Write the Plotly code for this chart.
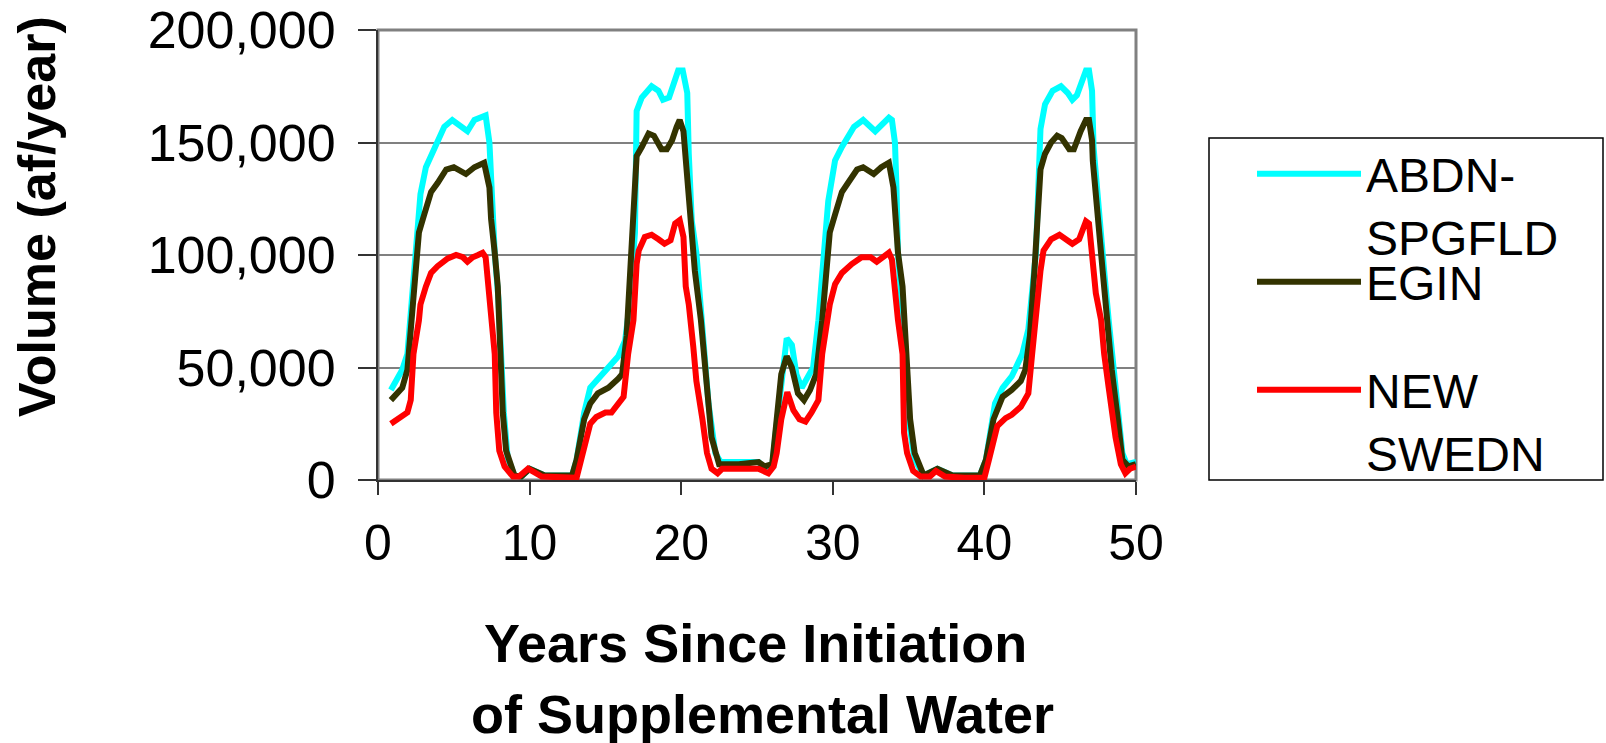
import plotly.graph_objects as go

# ---- data (years since initiation, volume af/year) ----
abdn_years = [0.85, 1.6, 1.94, 2.27, 2.6, 2.8, 3.16, 3.7, 4.37, 4.9, 5.9, 6.36, 7.1, 7.35, 7.5, 7.7, 7.95, 8.3, 8.55,
              9.0, 9.45, 10.0, 11.0, 12.8, 13.1, 13.6, 14.0, 15.0, 15.85, 16.3, 16.6, 16.95, 17.06, 17.4, 18.05, 18.5,
              18.8, 19.2, 19.6, 19.8, 20.1, 20.4, 20.5, 20.7, 21.0, 21.4, 21.8, 22.25, 22.6, 23.8, 25.1, 25.5, 26.0,
              26.2, 26.6, 26.96, 27.3, 27.6, 27.95, 28.4, 28.7, 29.05, 29.5, 29.7, 30.15, 30.6, 31.4, 32.0, 32.8, 33.2,
              33.7, 33.9, 34.1, 34.2, 34.3, 34.8, 35.0, 35.4, 36.0, 36.9, 37.9, 39.7, 40.1, 40.7, 41.2, 41.8, 42.5,
              42.9, 43.4, 43.7, 44.0, 44.5, 45.05, 45.5, 45.8, 46.1, 46.45, 46.7, 46.9, 47.1, 47.2, 47.55, 47.9, 48.2,
              48.65, 49.1, 49.4, 50.0]
abdn_volume = [40000, 49000, 56000, 86000, 115000, 127000, 139000, 147000, 157000, 160000, 155000, 160000, 162000,
               150000, 125000, 101000, 80000, 30000, 10000, 2000, 1500, 5000, 2000, 2000, 9000, 30000, 41000, 49000,
               55000, 62000, 78000, 110000, 164000, 170000, 175000, 173000, 169000, 170000, 178000, 182000, 182000,
               172000, 145000, 115000, 101000, 71000, 34000, 12000, 8000, 8000, 8000, 5000, 6000, 19000, 44000, 63000,
               60000, 47000, 41000, 46000, 50000, 71000, 107000, 124000, 142000, 148000, 157000, 160000, 155000,
               158000, 161000, 160000, 150000, 130000, 101000, 56000, 27000, 9000, 2000, 5000, 2000, 2000, 9000,
               34000, 41000, 46000, 56000, 67000, 101000, 156000, 167000, 173000, 175000, 172000, 169000, 171000,
               178000, 182000, 182000, 173000, 148000, 118000, 93000, 71000, 41000, 12000, 7000, 8000]

egin_years = [0.85, 1.6, 1.94, 2.27, 2.7, 3.05, 3.5, 3.93, 4.5, 5.0, 5.8, 6.36, 7.0, 7.35, 7.46, 7.7, 7.9, 8.23, 8.45,
              9.0, 9.45, 10.0, 11.0, 12.8, 13.1, 13.6, 14.0, 14.5, 15.2, 15.85, 16.1, 16.4, 16.7, 17.06, 17.4, 17.85,
              18.2, 18.7, 19.05, 19.4, 19.7, 19.9, 20.15, 20.3, 20.5, 20.6, 20.9, 21.3, 21.6, 22.0, 22.5, 23.8, 25.1,
              25.5, 26.0, 26.3, 26.6, 26.96, 27.3, 27.7, 28.1, 28.5, 28.9, 29.3, 29.6, 29.8, 30.15, 30.6, 31.0, 31.6,
              32.0, 32.7, 33.2, 33.7, 34.0, 34.1, 34.3, 34.6, 34.9, 35.1, 35.4, 36.0, 36.9, 37.9, 39.7, 40.1, 40.6,
              41.0, 41.2, 41.8, 42.4, 42.7, 43.0, 43.3, 43.7, 44.0, 44.4, 44.8, 45.1, 45.6, 45.9, 46.35, 46.7, 46.9,
              47.1, 47.15, 47.45, 47.8, 48.1, 48.4, 48.8, 49.1, 49.5, 50.0]
egin_volume = [35500, 41000, 49000, 78000, 110000, 118000, 128000, 132000, 138000, 139000, 136000, 139000, 141000,
               130000, 116000, 101000, 86000, 30000, 13000, 2000, 1500, 5000, 2000, 2000, 9000, 27000, 34000, 38500,
               41000, 45000, 47000, 64000, 101000, 144000, 148000, 154000, 153000, 147000, 147000, 151000, 157000,
               160000, 155000, 142000, 130000, 116000, 93000, 71000, 49000, 19000, 7000, 7000, 8000, 6000, 7000,
               27000, 47000, 55000, 50000, 38500, 35500, 40000, 47000, 71000, 93000, 110000, 118000, 128000, 132000,
               138000, 139000, 136000, 139000, 141000, 130000, 116000, 101000, 86000, 56000, 27000, 12000, 2000,
               5000, 2000, 2000, 9000, 27000, 33000, 37000, 40000, 44000, 49000, 64000, 93000, 138000, 145000, 150000,
               153000, 152000, 147000, 147000, 155000, 160000, 160000, 151000, 142000, 116000, 93000, 71000, 49000,
               27000, 9000, 6000, 7000]

swedn_years = [0.85, 1.28, 1.94, 2.16, 2.34, 2.7, 2.8, 3.16, 3.5, 3.93, 4.6, 5.15, 5.6, 5.9, 6.25, 6.6, 6.9, 7.1,
               7.35, 7.46, 7.7, 7.8, 8.0, 8.35, 8.9, 9.3, 9.9, 10.8, 11.9, 13.1, 13.4, 14.0, 14.4, 15.0, 15.4, 15.7,
               16.2, 16.5, 16.85, 17.06, 17.2, 17.6, 18.05, 18.5, 18.9, 19.3, 19.6, 19.9, 20.15, 20.3, 20.5, 20.8,
               21.0, 21.4, 21.7, 22.0, 22.4, 22.7, 23.8, 25.1, 25.75, 26.1, 26.3, 26.6, 27.0, 27.4, 27.8, 28.2, 28.6,
               29.05, 29.3, 29.6, 29.8, 30.15, 30.6, 31.25, 31.9, 32.5, 32.9, 33.2, 33.7, 33.9, 34.1, 34.3, 34.6,
               34.7, 34.9, 35.3, 35.8, 36.4, 36.8, 37.4, 38.7, 40.0, 40.3, 40.85, 41.4, 41.8, 42.4, 42.9, 43.15,
               43.4, 43.7, 43.9, 44.4, 44.95, 45.4, 45.8, 46.25, 46.7, 46.9, 47.1, 47.35, 47.7, 47.9, 48.2, 48.65,
               49.0, 49.3, 49.6, 50.0]
swedn_volume = [25000, 27000, 30000, 35500, 56000, 71000, 78000, 86000, 92000, 95000, 98500, 100000, 99000, 97000,
                99000, 100000, 101000, 99000, 83000, 71000, 56000, 30000, 13000, 6000, 1500, 1500, 5000, 1500, 1000,
                1000, 9000, 25000, 28000, 30000, 30000, 32500, 37000, 56000, 71000, 96000, 102000, 108000, 109000,
                107000, 105000, 106500, 114000, 115500, 108000, 86000, 78000, 59000, 44000, 27000, 12000, 5000, 3000,
                5000, 5000, 5000, 3000, 6000, 12000, 27000, 39000, 31000, 27000, 26000, 30000, 35500, 56000, 68000,
                78000, 87000, 92000, 96000, 99000, 99000, 97000, 98500, 101000, 98000, 81000, 71000, 56000, 21000,
                12000, 4000, 1500, 1500, 4000, 1500, 1000, 1000, 9000, 24000, 27500, 29000, 32500, 38500, 56000,
                74000, 93000, 102000, 107000, 109000, 107000, 105000, 107000, 115000, 114000, 102000, 83000, 71000,
                56000, 41000, 19000, 7000, 3000, 5000, 6000]

series_names = ["ABDN-<br>SPGFLD", "EGIN", "NEW<br>SWEDN"]
series_colors = ["#00FFFF", "#333300", "#FF0000"]
x_tick_values = [0, 10, 20, 30, 40, 50]
y_tick_values = [0, 50000, 100000, 150000, 200000]

# the page body margin is removed below, so figure pixels equal screen pixels
W, H = 1606, 743
L, R, T, B = 378, 1136, 30, 480  # plot area in pixels
pw, ph = R - L, B - T


def px_x(p):
    return (p - L) / pw


def px_y(p):
    return (B - p) / ph


FONT = "Liberation Sans, Arial, sans-serif"

fig = go.Figure()
data = [(abdn_years, abdn_volume), (egin_years, egin_volume), (swedn_years, swedn_volume)]
legends = ["legend", "legend2", "legend3"]
for (xs, ys), name, color, lg in zip(data, series_names, series_colors, legends):
    fig.add_trace(go.Scatter(x=xs, y=ys, mode="lines", name=name, legend=lg,
                             line=dict(color=color, width=6)))

legend_common = dict(xanchor="left", yanchor="top", valign="top", bgcolor="rgba(0,0,0,0)",
                     borderwidth=0, font=dict(family=FONT, size=48, color="black"), itemwidth=104)

fig.update_layout(
    width=W, height=H,
    margin=dict(l=L, r=W - R, t=T, b=H - B, autoexpand=False),
    paper_bgcolor="white", plot_bgcolor="white",
    font=dict(family=FONT, color="black"),
    showlegend=True,
    legend=dict(x=px_x(1252), y=px_y(136), **legend_common),
    legend2=dict(x=px_x(1252), y=px_y(244), **legend_common),
    legend3=dict(x=px_x(1252), y=px_y(352), **legend_common),
    xaxis=dict(range=[0, 50], tickvals=x_tick_values, ticks="outside", ticklen=13, tickwidth=1.5,
               tickcolor="#333333", showline=True, linecolor="#333333", linewidth=2, showgrid=False,
               zeroline=False, tickfont=dict(size=50, family=FONT), automargin=False, ticklabelstandoff=5,
               ticklabeloverflow="allow"),
    yaxis=dict(range=[0, 200000], tickvals=y_tick_values, tickformat=",d", ticks="outside", ticklen=18,
               tickwidth=1.5, tickcolor="#333333", showline=True, linecolor="#333333", linewidth=2,
               showgrid=True, gridcolor="#808080", gridwidth=1.5, zeroline=False,
               tickfont=dict(size=52, family=FONT), automargin=False, ticklabelstandoff=12,
               ticklabeloverflow="allow"),
    shapes=[
        dict(type="rect", xref="paper", yref="paper", x0=0, x1=1, y0=0, y1=1,
             line=dict(color="#808080", width=3), layer="below"),
        dict(type="rect", xref="paper", yref="paper", x0=px_x(1209), x1=px_x(1603), y0=px_y(480),
             y1=px_y(138), line=dict(color="black", width=1.5), layer="below"),
    ],
    annotations=[
        dict(text="<b>Years Since Initiation</b>", xref="paper", yref="paper", x=px_x(755), y=px_y(643),
             xanchor="center", yanchor="middle", showarrow=False, font=dict(size=54, family=FONT)),
        dict(text="<b>of Supplemental Water</b>", xref="paper", yref="paper", x=px_x(762), y=px_y(714),
             xanchor="center", yanchor="middle", showarrow=False, font=dict(size=54, family=FONT)),
        dict(text="<b>Volume (af/year)</b>", xref="paper", yref="paper", x=px_x(37), y=px_y(217),
             xanchor="center", yanchor="middle", textangle=-90, showarrow=False,
             font=dict(size=52, family=FONT)),
    ],
)

fig.write_html("out.html", config={"displayModeBar": False},
               post_script="document.body.style.margin='0px';document.body.style.overflow='hidden';")
